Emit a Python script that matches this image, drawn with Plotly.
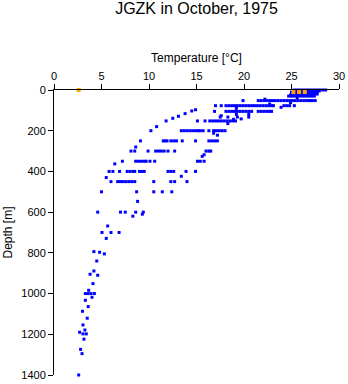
import plotly.graph_objects as go

surface_rows = [
    (0, [25.3, 25.6, 25.9, 26.2, 26.5, 26.8, 27.1, 27.4, 27.7, 28.0, 28.3, 28.6]),
    (5, [25.2, 25.5, 25.8, 26.1, 26.4, 26.7, 27.0, 27.3, 27.6, 27.9]),
    (10, [25.0, 25.3, 25.6, 25.9, 26.2, 26.5, 26.8, 27.1, 27.4, 27.7]),
    (16, [25.1, 25.4, 25.7, 26.0, 26.3, 26.6, 26.9, 27.2, 27.5]),
    (20, [25.0, 25.3, 25.6, 25.9, 26.2, 26.5, 26.8, 27.1, 27.4, 27.7]),
    (25, [24.9, 25.2, 25.5, 25.8, 26.1, 26.4, 26.7, 27.0, 27.3]),
    (30, [24.7, 25.0, 25.3, 25.6, 25.9, 26.2, 26.5, 26.8, 27.1, 27.4]),
    (40, [25.6]),
    (45, [22.2]),
    (52, [19.9, 21.5, 21.8, 22.1, 22.4, 22.7, 23.0, 23.3, 23.6, 23.9,
          24.2, 24.5, 24.8, 25.1, 25.4, 25.7, 26.0, 26.3, 26.6, 26.9,
          27.2, 27.5]),
    (62, [24.9]),
    (69, [22.7]),
    (77, [17.0, 17.6, 18.1, 18.4, 18.7, 19.0, 19.3, 19.6, 19.9, 20.2,
          20.5, 20.8, 21.1, 21.4, 21.7, 22.0, 22.3, 22.6, 22.9, 23.1,
          24.2, 24.5, 24.8, 25.3]),
    (85, [23.9]),
    (90, [19.2]),
    (97, [14.9]),
    (103, [14.5]),
    (105, [16.9, 18.1, 18.4, 18.7, 19.0, 19.3, 19.6, 19.9, 20.2, 20.5,
           20.8, 21.5, 21.8, 22.1, 22.4, 22.7, 22.9]),
    (116, [13.8]),
    (120, [19.2, 20.5]),
    (126, [17.6]),
    (129, [13.1]),
    (133, [17.5, 18.3, 19.3, 20.5]),
    (139, [12.5]),
    (142, [19.7]),
    (144, [18.9]),
]

thermocline_rows = [
    (152, [11.8, 15.1, 15.9, 16.4, 16.7, 17.0, 17.3, 17.6, 17.9, 18.2,
           18.5, 18.8, 19.1]),
    (165, [18.3]),
    (180, [10.8]),
    (200, [10.2, 13.4, 13.7, 14.0, 14.3, 14.6, 14.9, 15.2, 15.4, 15.7,
           16.3, 16.8, 17.1, 17.4, 17.7, 18.0]),
    (212, [16.8]),
    (222, [17.2]),
    (250, [9.1, 11.5, 11.7, 11.9, 12.3, 12.6, 12.9, 13.5, 14.9, 16.3,
           16.6, 16.9, 17.2]),
    (280, [8.6]),
    (300, [8.1, 8.5, 9.9, 10.7, 11.0, 11.3, 11.6, 12.0, 12.7, 16.0,
           16.3, 16.5]),
    (318, [15.8]),
    (326, [15.6]),
    (350, [7.2, 8.6, 8.9, 9.2, 9.5, 9.7, 10.1, 10.6, 15.1, 15.4, 15.8]),
    (363, [6.4]),
    (400, [5.8, 6.2, 6.9, 7.7, 8.0, 8.3, 8.5, 9.0, 9.3, 9.5, 12.0, 12.3,
           12.6, 13.9, 14.9]),
    (424, [13.4]),
    (430, [5.5]),
    (450, [6.0, 6.7, 7.0, 7.3, 7.6, 7.9, 8.2, 8.5, 10.5, 12.3, 12.7, 14.0]),
    (500, [5.0, 8.7, 10.5, 11.4, 12.4]),
    (547, [8.8]),
    (600, [4.6, 7.0, 7.5, 8.6, 9.4]),
    (610, [9.3]),
    (620, [8.3]),
]

deep_rows = [
    (668, [5.65]),
    (700, [5.05, 6.0, 6.85]),
    (729, [5.5]),
    (794, [4.2]),
    (797, [4.8]),
    (805, [5.3]),
    (840, [4.5]),
    (889, [4.2]),
    (905, [3.8]),
    (910, [4.6]),
    (951, [4.1]),
    (984, [3.65]),
    (1000, [3.3, 3.6, 3.9, 4.25]),
    (1018, [4.0]),
    (1033, [3.3]),
    (1064, [3.6]),
    (1087, [3.0]),
    (1121, [3.5]),
    (1154, [3.05]),
    (1179, [3.25]),
    (1190, [2.7]),
    (1198, [3.05, 3.4]),
    (1224, [3.15]),
    (1274, [2.8]),
    (1295, [2.95]),
    (1400, [2.6]),
]

# Orange (highlighted) observations
orange_temp = [2.6, 25.2, 25.8, 26.4]
orange_depth = [0, 10, 10, 10]

x_ticks = [0, 5, 10, 15, 20, 25, 30]
y_ticks = [0, 200, 400, 600, 800, 1000, 1200, 1400]

blue_temp, blue_depth = [], []
for rows in (surface_rows, thermocline_rows, deep_rows):
    for d, temps in rows:
        for t in temps:
            blue_temp.append(t)
            blue_depth.append(d)

font_family = "Liberation Sans, Arial, sans-serif"

fig = go.Figure()
fig.add_trace(go.Scatter(
    x=blue_temp, y=blue_depth, mode="markers",
    marker=dict(symbol="square", size=3, color="#0000FF", line=dict(width=0)),
    cliponaxis=False, showlegend=False, hoverinfo="x+y",
))
fig.add_trace(go.Scatter(
    x=orange_temp, y=orange_depth, mode="markers",
    marker=dict(symbol="square", size=4, color="#FFA500", line=dict(width=0)),
    cliponaxis=False, showlegend=False, hoverinfo="x+y",
))

fig.update_layout(
    width=348, height=384,
    margin=dict(l=54, r=9, t=90, b=9, autoexpand=False),
    paper_bgcolor="white", plot_bgcolor="white",
    font=dict(family=font_family, color="black", size=11),
    title=dict(text="JGZK in October, 1975", x=0.5, xref="paper",
               y=1 - 8 / 384, yref="container", yanchor="middle",
               font=dict(size=16, family=font_family, color="black")),
    xaxis=dict(
        side="top", range=[0, 30], tickvals=x_ticks,
        ticktext=[str(v) for v in x_ticks],
        showline=True, linecolor="black", linewidth=1,
        ticks="outside", ticklen=5, tickcolor="black", tickwidth=1,
        showgrid=False, zeroline=False, mirror=False,
        title=dict(text="Temperature [°C]", font=dict(size=12), standoff=4),
        tickfont=dict(size=11),
    ),
    yaxis=dict(
        range=[1400, 0], tickvals=y_ticks,
        ticktext=[str(v) for v in y_ticks],
        showline=True, linecolor="black", linewidth=1,
        ticks="outside", ticklen=5, tickcolor="black", tickwidth=1,
        showgrid=False, zeroline=False, mirror=False,
        title=dict(text="Depth [m]", font=dict(size=12), standoff=6),
        tickfont=dict(size=11),
    ),
)

fig.write_html("out.html")
